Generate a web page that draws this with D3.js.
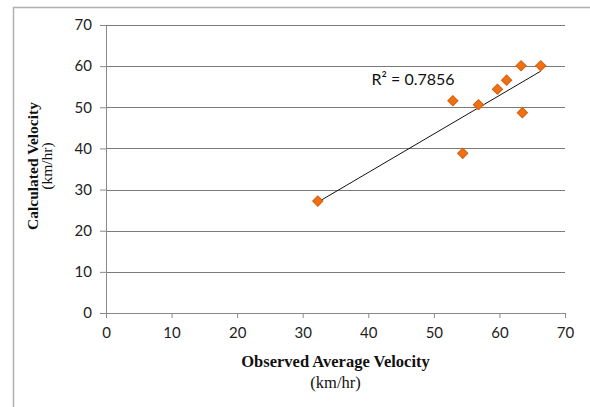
<!DOCTYPE html>
<html>
<head>
<meta charset="utf-8">
<script src="https://cdn.jsdelivr.net/npm/d3@7"></script>
<style>
  body { margin: 0; background: #fff; }
  .tick text { font-family: Lato, "Open Sans", sans-serif; font-size: 15px; fill: #222; }
  .axis-title { font-family: "Liberation Serif", "Times New Roman", serif; font-size: 16.5px; fill: #111; }
</style>
</head>
<body>
<div class="chart"></div>
<script>
// observed vs calculated velocity (km/hr)
var observed = [32.3, 52.9, 54.4, 56.8, 59.7, 61.1, 63.3, 63.5, 66.3];
var calculated = [27.2, 51.6, 38.8, 50.6, 54.4, 56.6, 60.1, 48.7, 60.1];
var xTicks = [0, 10, 20, 30, 40, 50, 60, 70];
var yTicks = [0, 10, 20, 30, 40, 50, 60, 70];
var rSquaredLabel = "R² = 0.7856";

var svgWidth = 590;
var svgHeight = 407;

var margin = {
  top: 25,
  right: 25,
  bottom: 94,
  left: 106
};

var width = svgWidth - margin.left - margin.right;
var height = svgHeight - margin.top - margin.bottom;

var svg = d3.select(".chart")
  .append("svg")
  .attr("width", svgWidth)
  .attr("height", svgHeight);

// outer frame (only top and left edges show in the picture)
svg.append("path")
  .attr("d", "M13.5,407 V7.5 H590")
  .attr("fill", "none")
  .attr("stroke", "#b0b0b0")
  .attr("stroke-width", 1.5);

var chartGroup = svg.append("g")
  .attr("transform", `translate(${margin.left}, ${margin.top})`);

var xScale = d3.scaleLinear().domain([0, 70]).range([0, width]);
var yScale = d3.scaleLinear().domain([0, 70]).range([height, 0]);

// horizontal gridlines
chartGroup.append("g")
  .selectAll("line")
  .data(yTicks.filter(d => d > 0))
  .enter()
  .append("line")
  .attr("x1", 0)
  .attr("x2", width)
  .attr("y1", d => Math.round(yScale(d)) + 0.5)
  .attr("y2", d => Math.round(yScale(d)) + 0.5)
  .attr("stroke", "#7a7a7a")
  .attr("stroke-width", 1);

// axes
var bottomAxis = d3.axisBottom(xScale).tickValues(xTicks).tickSizeInner(5).tickSizeOuter(0).tickPadding(9);
var leftAxis = d3.axisLeft(yScale).tickValues(yTicks).tickSizeInner(6).tickSizeOuter(0).tickPadding(8);

var xAxis = chartGroup.append("g")
  .attr("transform", `translate(0, ${height})`)
  .call(bottomAxis);

var yAxis = chartGroup.append("g")
  .call(leftAxis);

[xAxis, yAxis].forEach(function(ax) {
  ax.select(".domain").attr("stroke", "#8a8a8a");
  ax.selectAll(".tick line").attr("stroke", "#8a8a8a");
});

// linear trendline through the points
var mx = d3.mean(observed);
var my = d3.mean(calculated);
var sxy = d3.sum(observed, (d, i) => (d - mx) * (calculated[i] - my));
var sxx = d3.sum(observed, d => (d - mx) * (d - mx));
var slope = sxy / sxx;
var intercept = my - slope * mx;
var xMin = d3.min(observed);
var xMax = d3.max(observed);

chartGroup.append("line")
  .attr("x1", xScale(xMin))
  .attr("y1", yScale(slope * xMin + intercept))
  .attr("x2", xScale(xMax))
  .attr("y2", yScale(slope * xMax + intercept))
  .attr("stroke", "#111")
  .attr("stroke-width", 1);

// diamond markers
var diamond = d3.symbol().type(d3.symbolSquare).size(52);

chartGroup.selectAll(".marker")
  .data(observed)
  .enter()
  .append("path")
  .attr("class", "marker")
  .attr("d", diamond)
  .attr("transform", (d, i) => `translate(${xScale(d)}, ${yScale(calculated[i])}) rotate(45)`)
  .attr("fill", "#f07014")
  .attr("stroke", "#d65f0a")
  .attr("stroke-width", 1);

// R squared label
chartGroup.append("text")
  .attr("x", xScale(40.5))
  .attr("y", 60)
  .attr("font-family", "Lato, 'Open Sans', sans-serif")
  .attr("font-size", "16px")
  .attr("fill", "#111")
  .text(rSquaredLabel);

// x axis title
var xTitle = chartGroup.append("text")
  .attr("class", "axis-title")
  .attr("text-anchor", "middle")
  .attr("transform", `translate(${width / 2}, ${height + 54})`);

xTitle.append("tspan")
  .attr("x", 0)
  .attr("y", 0)
  .attr("font-weight", "bold")
  .text("Observed Average Velocity");

xTitle.append("tspan")
  .attr("x", 0)
  .attr("y", 21)
  .text("(km/hr)");

// y axis title
var yTitle = chartGroup.append("text")
  .attr("class", "axis-title")
  .attr("font-size", "15.5px")
  .attr("style", "font-size:15.5px")
  .attr("text-anchor", "middle")
  .attr("transform", `translate(${38 - margin.left}, ${height / 2 - 3}) rotate(-90)`);

yTitle.append("tspan")
  .attr("x", 0)
  .attr("y", 0)
  .attr("font-weight", "bold")
  .text("Calculated Velocity");

yTitle.append("tspan")
  .attr("x", 0)
  .attr("y", 14)
  .text("(km/hr)");
</script>
</body>
</html>
